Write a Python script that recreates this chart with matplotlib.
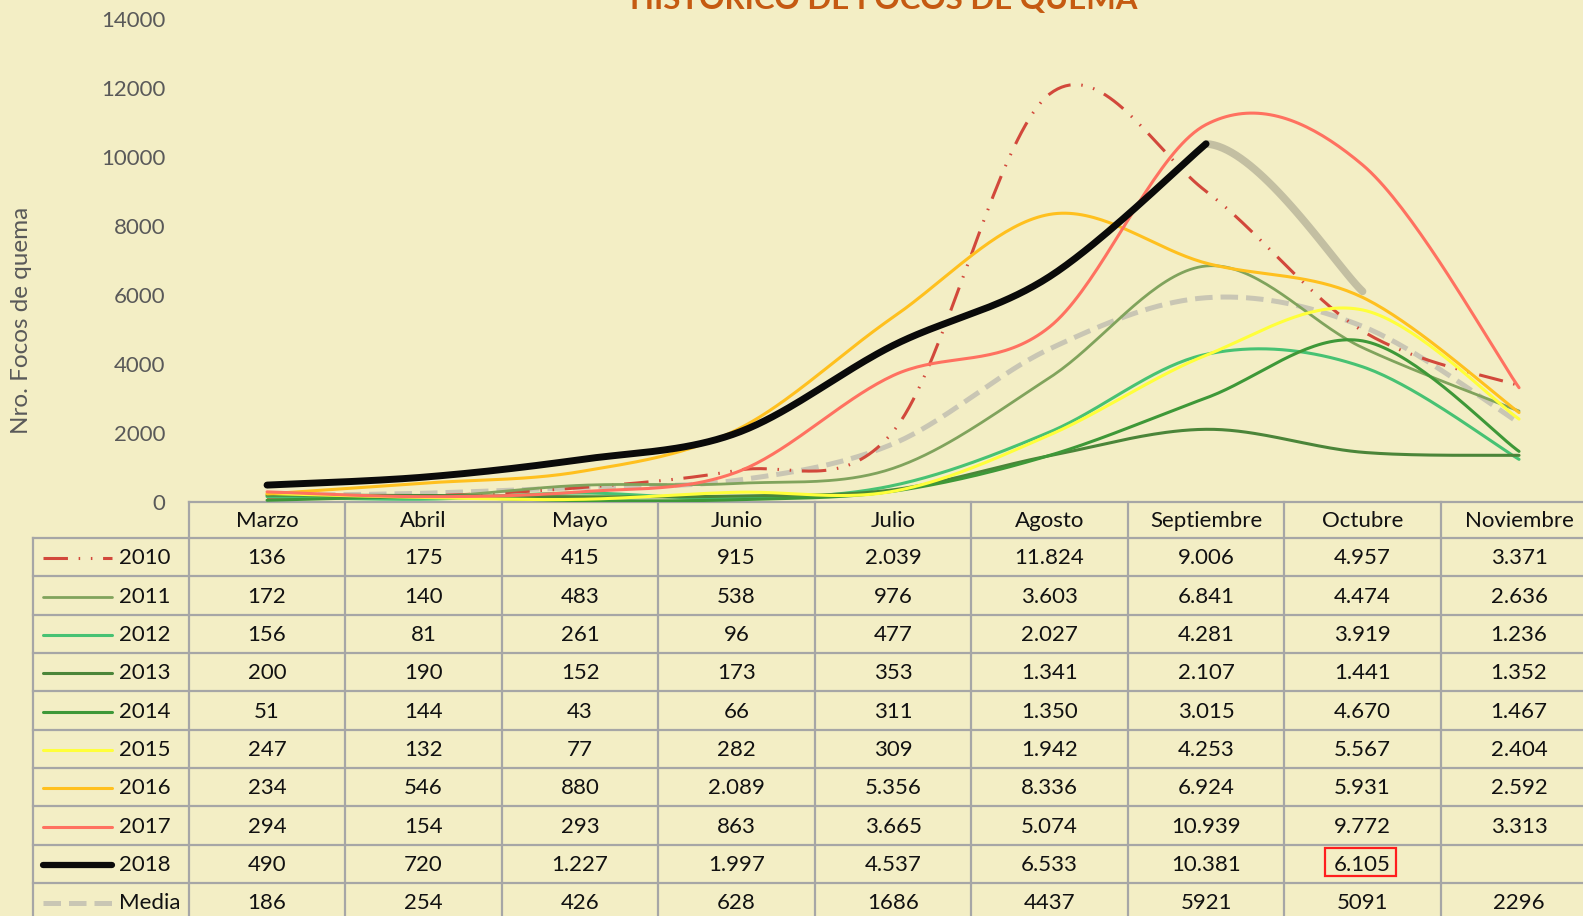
import numpy as np
import matplotlib.pyplot as plt
from matplotlib.lines import Line2D
from matplotlib.patches import Rectangle
from matplotlib.transforms import blended_transform_factory

plt.rcParams['font.family'] = ['Lato', 'DejaVu Sans']

meses = ['Marzo', 'Abril', 'Mayo', 'Junio', 'Julio', 'Agosto', 'Septiembre', 'Octubre', 'Noviembre']
series = ['2010', '2011', '2012', '2013', '2014', '2015', '2016', '2017', '2018', 'Media']

v2010 = [136, 175, 415, 915, 2039, 11824, 9006, 4957, 3371]
v2011 = [172, 140, 483, 538, 976, 3603, 6841, 4474, 2636]
v2012 = [156, 81, 261, 96, 477, 2027, 4281, 3919, 1236]
v2013 = [200, 190, 152, 173, 353, 1341, 2107, 1441, 1352]
v2014 = [51, 144, 43, 66, 311, 1350, 3015, 4670, 1467]
v2015 = [247, 132, 77, 282, 309, 1942, 4253, 5567, 2404]
v2016 = [234, 546, 880, 2089, 5356, 8336, 6924, 5931, 2592]
v2017 = [294, 154, 293, 863, 3665, 5074, 10939, 9772, 3313]
v2018 = [490, 720, 1227, 1997, 4537, 6533, 10381, None, None]
media = [186, 254, 426, 628, 1686, 4437, 5921, 5091, 2296]
proy2018_oct = 6105  # valor proyectado para octubre (recuadro rojo)

valores = [v2010, v2011, v2012, v2013, v2014, v2015, v2016, v2017, v2018, media]
colores = ['#D2483B', '#80A35C', '#47C273', '#4B8539', '#3E9838',
           '#FFFF3A', '#FFC01E', '#FF7160', '#0A0A0A', '#C9C6B4']
anchos = [2.2, 2.0, 2.2, 2.2, 2.2, 2.2, 2.2, 2.2, 5.0, 3.6]
bg = '#F3EEC5'
gris = '#A6A6A6'
fs = 16


def suave(y, n=40):
    # curva tipo Excel (Catmull-Rom / Bezier)
    pts = np.column_stack([np.arange(len(y)), y]).astype(float)
    out = []
    for i in range(len(pts) - 1):
        p0 = pts[max(i - 1, 0)]
        p1 = pts[i]
        p2 = pts[i + 1]
        p3 = pts[min(i + 2, len(pts) - 1)]
        c1 = p1 + (p2 - p0) / 6
        c2 = p2 - (p3 - p1) / 6
        t = np.linspace(0, 1, n)[:, None]
        seg = (1 - t) ** 3 * p1 + 3 * (1 - t) ** 2 * t * c1 + 3 * (1 - t) * t ** 2 * c2 + t ** 3 * p2
        out.append(seg if i == 0 else seg[1:])
    return np.vstack(out)


def fmt(v, miles=True):
    if v is None:
        return ''
    return f'{v:,}'.replace(',', '.') if miles else str(v)


W, H = 1583, 916
fig = plt.figure(figsize=(W / 100, H / 100), dpi=100, facecolor=bg)

# capa en pixeles para la tabla
tab = fig.add_axes([0, 0, 1, 1])
tab.set_xlim(0, W)
tab.set_ylim(H, 0)
tab.axis('off')
tab.patch.set_alpha(0)

# grafico
x0, colw = 188.8, 156.5
y_cero, y_top = 502, 19
ax = fig.add_axes([x0 / W, (H - y_cero) / H, 9 * colw / W, (y_cero - y_top) / H])
ax.set_facecolor('none')
ax.set_xlim(-0.5, 8.5)
ax.set_ylim(0, 14000)
ax.set_yticks(range(0, 14001, 2000))
ax.tick_params(axis='y', length=0, pad=17, labelsize=fs, labelcolor='#595959')
ax.set_xticks([])
for s in ax.spines.values():
    s.set_visible(False)

estilo = {'2010': dict(dashes=(8, 3.5, 0.5, 3.5, 0.5, 3.5))}
for nom, vals, col, lw in zip(series, valores, colores, anchos):
    y = [v for v in vals if v is not None]
    c = suave(y)
    kw = dict(color=col, lw=lw, solid_capstyle='round', zorder=3)
    if nom == '2010':
        kw.update(estilo['2010'])
    if nom == 'Media':
        kw.update(dashes=(3.5, 1.6), zorder=2)
    if nom == '2018':
        kw['zorder'] = 5
    ax.plot(c[:, 0], c[:, 1], **kw)

# proyeccion 2018 septiembre -> octubre
y18 = [v for v in v2018 if v is not None] + [proy2018_oct]
c = suave(y18)
c = c[c[:, 0] >= 6]
ax.plot(c[:, 0], c[:, 1], color='#C3BFA2', lw=5.5, solid_capstyle='round', zorder=4)

fig.text(22 / W, (H - 320) / H, 'Nro. Focos de quema', rotation=90, ha='center', va='center',
         fontsize=17.5, color='#595959')

fig.text(884 / W, (H - 9) / H, 'HISTÓRICO DE FOCOS DE QUEMA', ha='center', va='baseline',
         fontsize=22.5, fontweight='bold', color='#C55A11')

# tabla de datos
tr = blended_transform_factory(ax.transData, tab.transData)
fila_h = 38.35
y_head = 502
y_rows = [538 + i * fila_h for i in range(len(series) + 1)]
n = len(meses)

tab.plot([-0.5, n - 0.5], [y_head, y_head], color=gris, lw=1.6, transform=tr, clip_on=False)
for yy in y_rows:
    tab.plot([33, W], [yy, yy], color=gris, lw=1.6)
tab.plot([33, 33], [y_rows[0], H], color=gris, lw=1.6)
for i in range(n + 1):
    tab.plot([i - 0.5, i - 0.5], [y_head, H], color=gris, lw=1.6, transform=tr, clip_on=False)

for i, m in enumerate(meses):
    tab.text(i, (y_head + y_rows[0]) / 2 + 1, m, ha='center', va='center', fontsize=fs,
             color='#111111', transform=tr)

for r, (nom, vals, col, lw) in enumerate(zip(series, valores, colores, anchos)):
    yc = (y_rows[r] + y_rows[r + 1]) / 2 + 1
    for i, v in enumerate(vals):
        tab.text(i, yc, fmt(v, nom != 'Media'), ha='center', va='center', fontsize=fs,
                 color='#111111', transform=tr)
    kw = dict(color=col, lw=lw if nom not in ('2018', 'Media') else (4.5 if nom == '2018' else 3.6),
              solid_capstyle='round')
    if nom == '2010':
        kw.update(estilo['2010'])
    if nom == 'Media':
        kw.update(dashes=(3.5, 1.6))
    tab.add_line(Line2D([43, 112], [yc, yc], **kw))
    tab.text(119, yc, nom, ha='left', va='center', fontsize=fs, color='#111111')

# recuadro rojo en el valor proyectado
yc = (y_rows[8] + y_rows[9]) / 2 + 1
tab.text(7, yc, fmt(proy2018_oct), ha='center', va='center', fontsize=fs,
         color='#111111', transform=tr)
tab.add_patch(Rectangle((1325.5, 848), 71, 28, fill=False, ec='#FF1E1E', lw=1.6))

fig.savefig('out.png', dpi=100, facecolor=bg)
